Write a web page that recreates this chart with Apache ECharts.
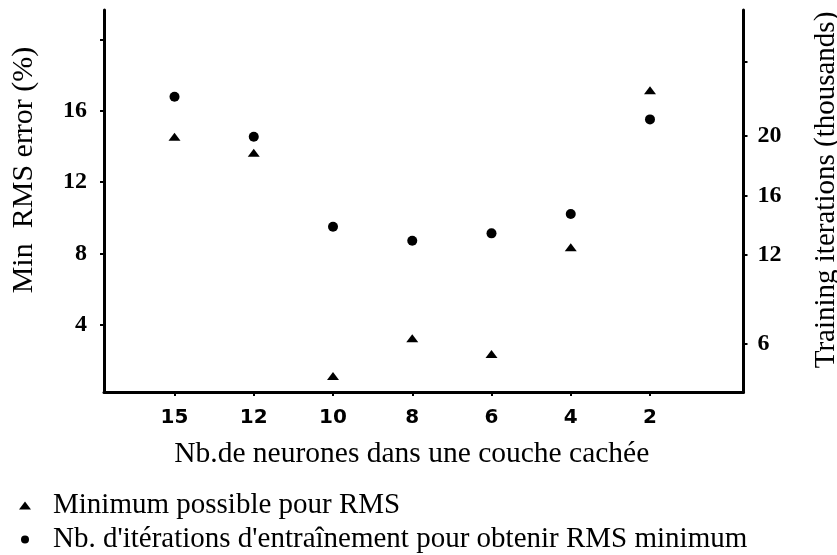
<!DOCTYPE html>
<html>
<head>
<meta charset="utf-8">
<script src="https://cdn.jsdelivr.net/npm/echarts@6/dist/echarts.min.js"></script>
<style>
  html, body { margin: 0; padding: 0; background: #ffffff; }
  #chart { width: 837px; height: 555px; }
</style>
</head>
<body>
<div id="chart"></div>
<script>
// Hidden-layer sizes (neurons), shown left to right
const categories = ['15', '12', '10', '8', '6', '4', '2'];

// Minimum achievable RMS error (%) for each network size
const rmsMin = [14.54, 13.64, 1.13, 3.24, 2.36, 8.34, 17.15];

// Training iterations (thousands) needed to reach that minimum
const iterationsK = [22.65, 19.95, 13.89, 12.94, 13.44, 14.74, 21.12];

// Axis ticks and their labels
const rmsTicks = [4, 8, 12, 16, 20];
const rmsTickLabels = ['4', '8', '12', '16', ''];
const iterTicks = [6, 12, 16, 20, 25];
const iterTickLabels = ['6', '12', '16', '20', ''];

// Texts
const seriesNames = ['Minimum possible pour RMS', "Nb. d'itérations d'entraînement pour obtenir RMS minimum"];
const xTitle = 'Nb.de neurones dans une couche cachée';
const leftTitle = 'Min  RMS error (%)';
const rightTitle = 'Training iterations (thousands)';

const catIndex = categories.map((c, i) => i);
const SERIF = '"Liberation Serif", "Times New Roman", serif';
const SANS = '"DejaVu Sans", Verdana, sans-serif';

const chart = echarts.init(document.getElementById('chart'), null, { renderer: 'canvas' });

const axisLineStyle = { color: '#000', width: 3 };
const tickStyle = { color: '#000', width: 2 };

chart.setOption({
  animation: false,
  backgroundColor: '#ffffff',
  grid: { left: 104, right: 93.5, top: 10, bottom: 163, containLabel: false, outerBoundsMode: 'none' },
  xAxis: {
    type: 'value',
    min: -0.89,
    max: 7.18,
    axisLine: { show: true, onZero: false, lineStyle: axisLineStyle },
    axisTick: { show: true, customValues: catIndex, length: 4, lineStyle: tickStyle },
    axisLabel: {
      customValues: catIndex,
      formatter: v => categories[v],
      fontFamily: SANS, fontWeight: 'bold', fontSize: 20, color: '#000', margin: 16
    },
    splitLine: { show: false },
    name: xTitle,
    nameLocation: 'middle',
    nameGap: 47,
    nameTextStyle: { fontFamily: SERIF, fontSize: 29.5, color: '#000', padding: [0, 24, 0, 0] }
  },
  yAxis: [
    {
      type: 'value',
      position: 'left',
      min: 0.235,
      max: 21.64,
      axisLine: { show: true, onZero: false, lineStyle: axisLineStyle },
      axisTick: { show: true, customValues: rmsTicks, length: 4, lineStyle: tickStyle },
      axisLabel: {
        customValues: rmsTicks,
        formatter: v => rmsTickLabels[rmsTicks.indexOf(v)],
        fontFamily: SERIF, fontWeight: 'bold', fontSize: 24, color: '#000', margin: 17
      },
      splitLine: { show: false },
      name: leftTitle,
      nameLocation: 'middle',
      nameRotate: 90,
      nameGap: 65,
      nameTextStyle: { fontFamily: SERIF, fontSize: 30, color: '#000', padding: [0, 0, 0, 62] }
    },
    {
      type: 'value',
      position: 'right',
      min: 2.75,
      max: 28.49,
      axisLine: { show: true, onZero: false, lineStyle: axisLineStyle },
      axisTick: { show: true, customValues: iterTicks, length: 4, lineStyle: tickStyle },
      axisLabel: {
        customValues: iterTicks,
        formatter: v => iterTickLabels[iterTicks.indexOf(v)],
        fontFamily: SERIF, fontWeight: 'bold', fontSize: 24, color: '#000', margin: 14
      },
      splitLine: { show: false },
      name: rightTitle,
      nameLocation: 'middle',
      nameRotate: 90,
      nameGap: 68,
      nameTextStyle: { fontFamily: SERIF, fontSize: 29, color: '#000', padding: [0, 0, 0, 22] }
    }
  ],
  legend: {
    orient: 'vertical',
    left: 19,
    top: 491,
    padding: 0,
    itemWidth: 12,
    itemHeight: 8,
    itemGap: 5,
    selectedMode: false,
    itemStyle: { opacity: 1 },
    textStyle: { fontFamily: SERIF, fontSize: 29, color: '#000', lineHeight: 29, padding: [0, 0, 0, 17] },
    data: [
      { name: seriesNames[0], icon: 'triangle' },
      { name: seriesNames[1], icon: 'circle' }
    ]
  },
  series: [
    {
      name: seriesNames[0],
      type: 'scatter',
      yAxisIndex: 0,
      symbol: 'triangle',
      symbolSize: [12, 8],
      itemStyle: { color: '#000', opacity: 1 },
      data: categories.map((c, i) => [i, rmsMin[i]])
    },
    {
      name: seriesNames[1],
      type: 'scatter',
      yAxisIndex: 1,
      symbol: 'circle',
      symbolSize: 10,
      itemStyle: { color: '#000', opacity: 1 },
      data: categories.map((c, i) => [i, iterationsK[i]])
    }
  ]
});
</script>
</body>
</html>
